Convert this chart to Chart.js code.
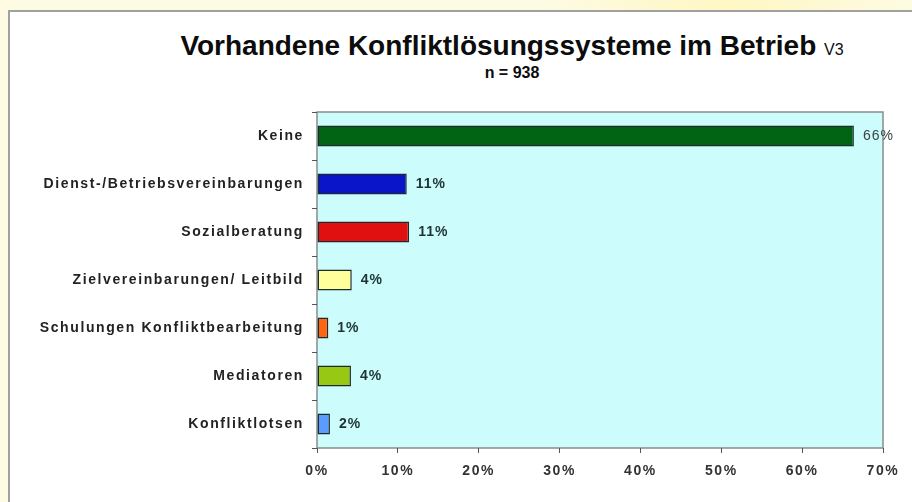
<!DOCTYPE html>
<html>
<head>
<meta charset="utf-8">
<script src="https://cdn.jsdelivr.net/npm/chart.js@4"></script>
<style>
  html, body { margin: 0; padding: 0; }
  body {
    width: 912px; height: 502px; overflow: hidden; position: relative;
    background: linear-gradient(90deg, #fdfbe2 0%, #fdfbe2 60%, #fff7c4 80%, #fdfbe2 100%);
    font-family: "Liberation Sans", Arial, sans-serif;
  }
  #panel {
    position: absolute; left: 8px; top: 10px; width: 910px; height: 500px;
    background: #ffffff; border-left: 2px solid #a0a0a0; border-top: 2px solid #a0a0a0;
  }
  #title {
    position: absolute; left: 0; width: 1024px; top: 30px; text-align: center;
    font-weight: bold; font-size: 28px; color: #0c0c0c; white-space: nowrap;
  }
  #title span { font-size: 16px; font-weight: normal; }
  #sub {
    position: absolute; left: 0; width: 1024px; top: 64px; text-align: center;
    font-weight: bold; font-size: 16px; color: #0c0c0c;
  }
  #wrap { position: absolute; left: 0; top: 0; width: 912px; height: 502px; }
</style>
</head>
<body>
<div id="panel"></div>
<div id="title">Vorhandene Konfliktlösungssysteme im Betrieb <span>V3</span></div>
<div id="sub">n = 938</div>
<div id="wrap"><canvas id="chart" width="912" height="502"></canvas></div>
<script>
// data
const categories = [
    'Keine',
    'Dienst-/Betriebsvereinbarungen',
    'Sozialberatung',
    'Zielvereinbarungen/ Leitbild',
    'Schulungen Konfliktbearbeitung',
    'Mediatoren',
    'Konfliktlotsen'
];
const shares = [66.4, 11.1, 11.4, 4.3, 1.4, 4.2, 1.6];
const barColors = ['#006414', '#0a14c8', '#e01010', '#ffff9c', '#ff6410', '#96c814', '#5a9cff'];
const xTicks = [0, 10, 20, 30, 40, 50, 60, 70];

const labelFont = { family: '"Liberation Sans", Arial, sans-serif', size: 14, weight: 'bold' };

// light cyan plot area with a grey frame, plus the wide letter spacing of the original
const plotBackground = {
    id: 'plotBackground',
    beforeDraw(chart) {
        const { ctx, chartArea: a } = chart;
        ctx.letterSpacing = '1.6px';
        ctx.save();
        ctx.fillStyle = '#ccfcfc';
        ctx.fillRect(a.left, a.top, a.right - a.left, a.bottom - a.top);
        ctx.strokeStyle = '#8c8c8c';
        ctx.lineWidth = 1.5;
        ctx.strokeRect(a.left, a.top, a.right - a.left, a.bottom - a.top);
        ctx.restore();
    },
    afterDraw(chart) {
        chart.ctx.letterSpacing = '0px';
    }
};

// percent labels to the right of each bar
const valueLabels = {
    id: 'valueLabels',
    afterDatasetsDraw(chart) {
        const { ctx } = chart;
        const meta = chart.getDatasetMeta(0);
        ctx.save();
        ctx.letterSpacing = '1px';
        ctx.textBaseline = 'middle';
        meta.data.forEach((bar, i) => {
            ctx.font = (i === 0 ? '' : 'bold ') + '14px "Liberation Sans", Arial, sans-serif';
            ctx.fillStyle = i === 0 ? '#3a4646' : '#1e3434';
            ctx.fillText(Math.round(shares[i]) + '%', bar.x + 9, bar.y);
        });
        ctx.restore();
    }
};

new Chart(document.getElementById('chart'), {
    type: 'bar',
    data: {
        labels: categories,
        datasets: [{
            data: shares,
            backgroundColor: barColors,
            borderColor: '#1e2a2a',
            borderWidth: 1.5,
            borderSkipped: false,
            categoryPercentage: 1,
            barPercentage: 0.44
        }]
    },
    options: {
        indexAxis: 'y',
        responsive: false,
        animation: false,
        layout: { padding: { top: 112, right: 29, left: 0, bottom: 0 } },
        plugins: { legend: { display: false }, tooltip: { enabled: false } },
        scales: {
            x: {
                min: 0,
                max: 70,
                afterBuildTicks(scale) { scale.ticks = xTicks.map(v => ({ value: v })); },
                afterFit(scale) { scale.height = 54; },
                border: { display: false },
                grid: { drawOnChartArea: false, tickLength: 5, color: '#555' },
                ticks: {
                    padding: 10,
                    color: '#333',
                    font: labelFont,
                    callback: v => v + '%'
                }
            },
            y: {
                afterFit(scale) { scale.width = 317; },
                border: { display: false },
                grid: { drawOnChartArea: false, tickLength: 5, color: '#555' },
                ticks: { padding: 8, color: '#222', font: labelFont }
            }
        }
    },
    plugins: [plotBackground, valueLabels]
});
</script>
</body>
</html>
